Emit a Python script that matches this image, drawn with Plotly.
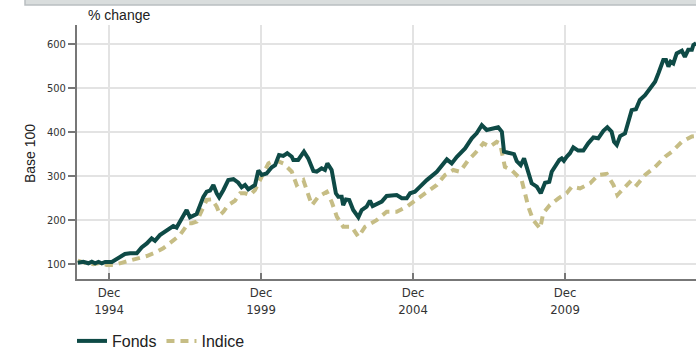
import plotly.graph_objects as go

# ---- data ----
fonds_t = [1993.89, 1994.07, 1994.24, 1994.35, 1994.46, 1994.57, 1994.68, 1994.79, 1995.01, 1995.22,
           1995.44, 1995.61, 1995.83, 1995.99, 1996.16, 1996.32, 1996.43, 1996.59, 1996.76, 1997.03,
           1997.14, 1997.31, 1997.47, 1997.58, 1997.80, 1998.02, 1998.13, 1998.24, 1998.35, 1998.46,
           1998.54, 1998.68, 1998.84, 1999.01, 1999.17, 1999.28, 1999.39, 1999.50, 1999.61, 1999.72,
           1999.83, 1999.94, 2000.10, 2000.27, 2000.38, 2000.51, 2000.65, 2000.78, 2000.93, 2000.98,
           2001.14, 2001.33, 2001.47, 2001.64, 2001.75, 2001.91, 2002.02, 2002.10, 2002.24, 2002.38,
           2002.46, 2002.57, 2002.62, 2002.71, 2002.82, 2002.95, 2003.12, 2003.23, 2003.39, 2003.50,
           2003.59, 2003.78, 2003.89, 2004.05, 2004.22, 2004.38, 2004.55, 2004.71, 2004.82, 2004.98,
           2005.15, 2005.37, 2005.70, 2006.03, 2006.19, 2006.36, 2006.63, 2006.85, 2007.01, 2007.18,
           2007.34, 2007.51, 2007.72, 2007.84, 2007.91, 2008.05, 2008.24, 2008.33, 2008.46, 2008.57,
           2008.66, 2008.82, 2008.99, 2009.12, 2009.26, 2009.40, 2009.48, 2009.59, 2009.73, 2009.81,
           2009.88, 2009.97, 2010.08, 2010.19, 2010.35, 2010.52, 2010.68, 2010.85, 2011.01, 2011.18,
           2011.31, 2011.45, 2011.53, 2011.62, 2011.73, 2011.89, 2012.00, 2012.11, 2012.25, 2012.38,
           2012.55, 2012.71, 2012.88, 2012.99, 2013.15, 2013.24, 2013.32, 2013.39, 2013.48, 2013.59,
           2013.76, 2013.86, 2013.97, 2014.09, 2014.14, 2014.23]
fonds_v = [102, 104.5, 101, 104.5, 101, 104, 101, 104, 104, 112,
           122, 123.6, 123.6, 137, 146, 157.7, 152, 165, 172.7, 185.7,
           182, 203, 222, 205.5, 213, 252, 263.6, 266, 279, 260,
           251, 267.5, 290, 292, 284, 273.6, 279, 269, 275, 279,
           312, 301.6, 305, 319, 324, 347, 345, 351, 343, 335.7,
           335.7, 354.5, 339.5, 310.7, 309, 316.8, 313, 328, 313, 260,
           252, 252, 233, 246, 244.8, 222, 205.5, 222, 229.5, 243,
           231, 238.6, 241, 254, 256, 256, 248.6, 248.6, 260, 263.6,
           275, 290, 309, 337, 328, 343, 362, 385, 396.3, 415,
           404, 407.7, 410, 400, 354.5, 352, 349, 333, 324, 339.5,
           320, 282.7, 275, 260, 284, 286, 309, 320, 335.7, 339.5,
           334, 343, 351, 364.5, 357, 357, 373.6, 387, 385, 402,
           410, 400, 377, 370, 390, 396, 419, 449, 451, 472,
           483, 498.6, 513.6, 532.7, 563, 563, 548, 559, 555, 578,
           584, 570, 586, 586, 597, 601]

indice_t = [1993.89, 1994.13, 1994.40, 1994.62, 1994.84, 1995.06, 1995.33, 1995.61, 1995.88, 1996.16,
            1996.43, 1996.70, 1996.98, 1997.25, 1997.53, 1997.64, 1997.80, 1997.97, 1998.13, 1998.30,
            1998.46, 1998.57, 1998.68, 1998.84, 1999.06, 1999.23, 1999.39, 1999.56, 1999.72, 1999.94,
            2000.16, 2000.38, 2000.65, 2000.93, 2001.09, 2001.31, 2001.59, 2001.80, 2002.08, 2002.24,
            2002.41, 2002.62, 2002.90, 2003.12, 2003.34, 2003.72, 2004.05, 2004.38, 2004.71, 2005.09,
            2005.37, 2005.70, 2005.97, 2006.24, 2006.46, 2006.74, 2006.96, 2007.23, 2007.45, 2007.67,
            2007.78, 2007.89, 2007.94, 2008.16, 2008.27, 2008.49, 2008.60, 2008.71, 2008.87, 2009.10,
            2009.20, 2009.42, 2009.70, 2009.97, 2010.14, 2010.41, 2010.74, 2011.01, 2011.29, 2011.51,
            2011.64, 2011.89, 2012.11, 2012.28, 2012.55, 2012.88, 2013.21, 2013.43, 2013.76, 2014.09,
            2014.23]
indice_v = [107, 102, 99, 102, 97, 97, 102, 107, 112, 117.5,
            125, 135, 150, 165, 192, 192, 195.5, 222, 245, 246.4,
            229.5, 210.7, 218, 233.4, 243, 260, 260, 256, 267.5, 297.7,
            328, 335.7, 328, 309, 279, 290, 233, 252, 263.6, 241,
            207, 184, 184, 161, 184, 199, 218, 218, 229.5, 248.6,
            263.6, 279, 301.6, 313, 309, 335.7, 351, 373.6, 366, 377,
            373.6, 343, 320, 313, 305.5, 290, 260, 229.5, 199, 180,
            214.5, 233.4, 248.6, 260, 275, 271, 282.7, 301.6, 304, 279,
            256, 275, 290, 279, 301.6, 320, 343, 354.5, 377, 389,
            390]

x_tickvals = [1994.917, 1999.917, 2004.917, 2009.917]
x_ticktext = ["Dec<br>1994", "Dec<br>1999", "Dec<br>2004", "Dec<br>2009"]
y_tickvals = [100, 200, 300, 400, 500, 600]

TICKFONT = "Liberation Sans Narrow, DejaVu Sans Condensed, Arial Narrow, sans-serif"
MAINFONT = "Liberation Sans, Arial, sans-serif"

fig = go.Figure()
fig.add_trace(go.Scatter(x=indice_t, y=indice_v, mode="lines", name="Indice",
                         line=dict(color="#c6bd85", width=4, dash="8px,6px")))
fig.add_trace(go.Scatter(x=fonds_t, y=fonds_v, mode="lines", name="Fonds",
                         line=dict(color="#0e4a46", width=4)))

fig.update_layout(
    width=696, height=349,
    margin=dict(l=77, r=0, t=25, b=70, autoexpand=False),
    plot_bgcolor="white", paper_bgcolor="white",
    showlegend=True,
    legend=dict(orientation="h", xref="container", yref="container",
                x=72 / 696, xanchor="left", y=1 - 341 / 349, yanchor="middle",
                font=dict(family=MAINFONT, size=16, color="#222"),
                traceorder="reversed", itemwidth=30, bgcolor="rgba(0,0,0,0)"),
    xaxis=dict(range=[1993.864, 2014.226], tickvals=x_tickvals, ticktext=x_ticktext,
               showgrid=True, gridcolor="#e3e3e3", gridwidth=2,
               showline=True, linecolor="#777", linewidth=2,
               ticks="inside", ticklen=6, tickcolor="#777", tickwidth=2,
               tickfont=dict(family=TICKFONT, size=13, color="#333"),
               zeroline=False, fixedrange=True, automargin=False),
    yaxis=dict(range=[65.2, 642.5], tickvals=y_tickvals,
               showgrid=True, gridcolor="#e3e3e3", gridwidth=2,
               showline=True, linecolor="#777", linewidth=2,
               ticks="outside", ticklen=7, tickcolor="#777", tickwidth=2,
               tickfont=dict(family=TICKFONT, size=11, color="#333"),
               zeroline=False, fixedrange=True, automargin=False),
    annotations=[
        dict(text="% change", xref="paper", yref="paper", x=(86 - 77) / 619, y=(279 - 15) / 254,
             xanchor="left", yanchor="middle", showarrow=False,
             font=dict(family=MAINFONT, size=14, color="#222")),
        dict(text="Base 100", xref="paper", yref="paper", x=(30 - 77) / 619, y=(279 - 154) / 254,
             xanchor="center", yanchor="middle", textangle=-90, showarrow=False,
             font=dict(family=MAINFONT, size=14, color="#222")),
    ],
    shapes=[
        dict(type="rect", xref="paper", yref="paper",
             x0=(25 - 77) / 619, x1=1.01, y0=(279 - 5) / 254, y1=(279 + 5) / 254,
             fillcolor="#d9dddd", line=dict(color="#b9bec1", width=1.5), layer="above"),
    ],
)

fig.write_html("out.html")
